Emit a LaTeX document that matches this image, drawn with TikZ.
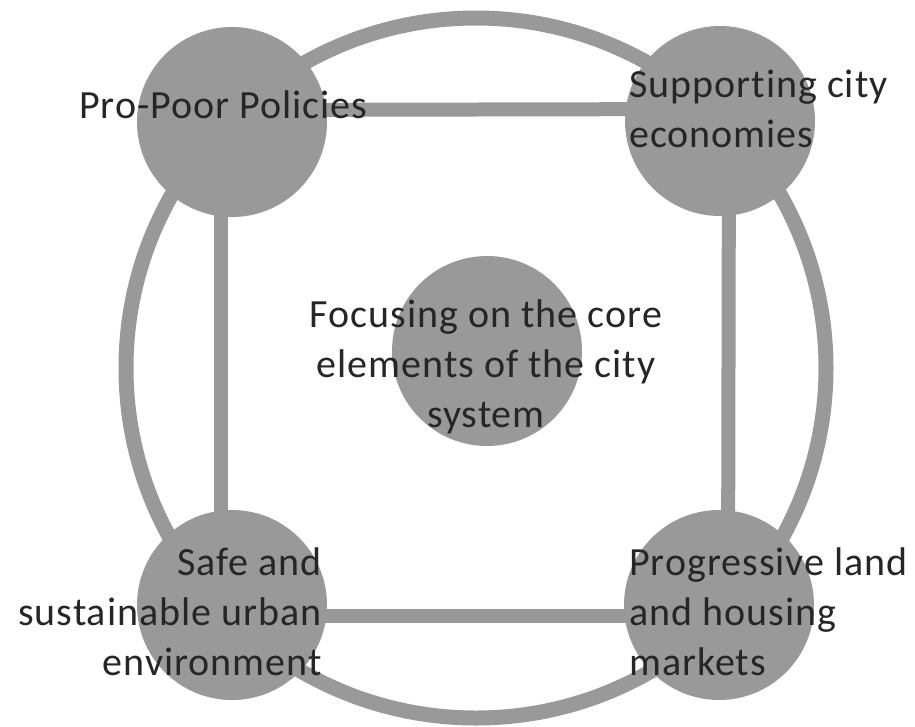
\documentclass[tikz,border=0pt]{standalone}
\usepackage{fontspec}
\setmainfont{Carlito}[LetterSpace=2.5, Ligatures=NoCommon]
\definecolor{grigio}{RGB}{153,153,153}
\tikzset{
  cerchio/.style={circle, fill=grigio, minimum size=190pt, inner sep=0pt},
  legame/.style={draw=grigio, line width=14pt},
  testo/.style={inner sep=0pt, font=\fontsize{40}{50}\selectfont, text=black!85}
}
\begin{document}
\begin{tikzpicture}[x=1pt, y=-1pt]
        \useasboundingbox (0,0) rectangle (915,726);
         % Disegna l'anello esterno
        \draw[grigio, line width=15pt] (476,368) circle (350);

         % Disegna i cerchi
        \node[cerchio] (pp) at (232,122) {};
        \node[cerchio] (sc) at (720,121) {};
        \node[cerchio] (se) at (232,605) {};
        \node[cerchio] (pl) at (719,605) {};
        \node[cerchio] (fc) at (487,351) {};

         % Definizione dei legami
        \draw[legame] ([yshift=12pt]pp.center) -- ([yshift=12pt]sc.center);
        \draw[legame] ([xshift=-11pt]pp.center) -- ([xshift=-11pt]se.center);
        \draw[legame] ([xshift=9pt]sc.center) -- ([xshift=9pt]pl.center);
        \draw[legame] ([yshift=-11pt]se.center) -- ([yshift=-11pt]pl.center);

         % Testi (base = ultima riga)
        \node[testo, anchor=base west] (tpp) at (79,118) {Pro-Poor Policies};
        \node[testo, anchor=base west, align=left] (tsc) at (629,147) {Supporting city\\economies};
        \node[testo, anchor=base east, align=right] (tse) at (322,675) {Safe and\\sustainable urban\\environment};
        \node[testo, anchor=base west, align=left] (tpl) at (629,675) {Progressive land\\and housing\\markets};
        \node[testo, anchor=base, align=center] (tfc) at (486,427) {Focusing on the core\\elements of the city\\system};
    \end{tikzpicture}
\end{document}
